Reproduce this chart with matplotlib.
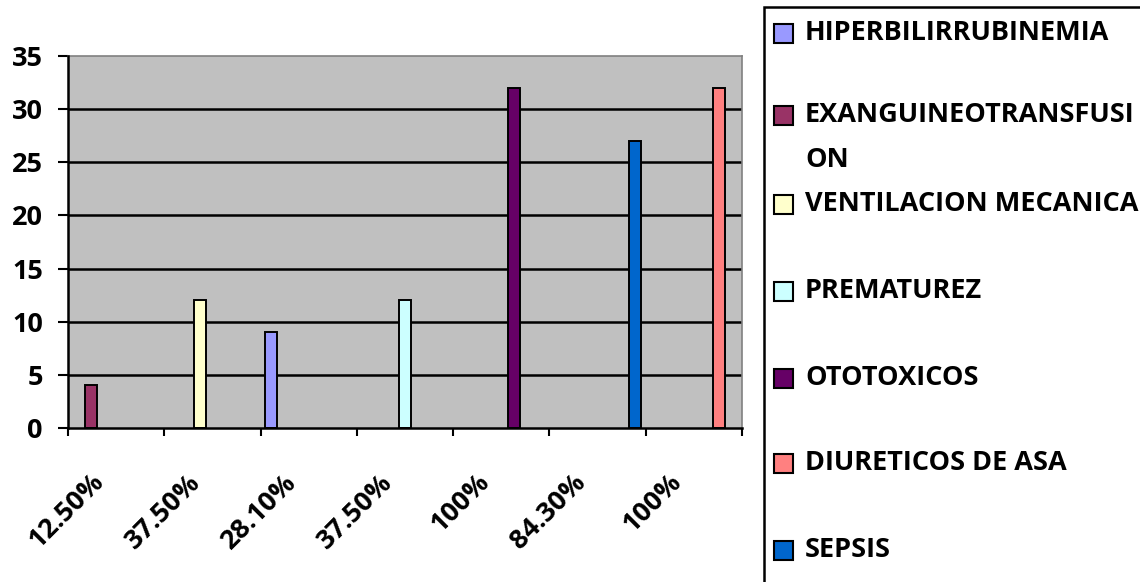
import matplotlib
matplotlib.use("Agg")
import matplotlib.pyplot as plt
from matplotlib.patches import Rectangle
from matplotlib.transforms import ScaledTranslation
import numpy as np

plt.rcParams['font.family'] = ['Open Sans', 'DejaVu Sans']
plt.rcParams['font.weight'] = 'bold'

# Category labels (percentage per group)
categories = ["12.50%", "37.50%", "28.10%", "37.50%", "100%", "84.30%", "100%"]

# One series per risk factor; each has a value only in its own category
series_names = ["HIPERBILIRRUBINEMIA", "EXANGUINEOTRANSFUSI\nON", "VENTILACION MECANICA",
                "PREMATUREZ", "OTOTOXICOS", "DIURETICOS DE ASA", "SEPSIS"]
hiperbilirrubinemia = [0, 0, 9, 0, 0, 0, 0]
exanguineotransfusion = [4, 0, 0, 0, 0, 0, 0]
ventilacion_mecanica = [0, 12, 0, 0, 0, 0, 0]
prematurez = [0, 0, 0, 12, 0, 0, 0]
ototoxicos = [0, 0, 0, 0, 32, 0, 0]
diureticos_de_asa = [0, 0, 0, 0, 0, 0, 32]
sepsis = [0, 0, 0, 0, 0, 27, 0]
series_values = [hiperbilirrubinemia, exanguineotransfusion, ventilacion_mecanica,
                 prematurez, ototoxicos, diureticos_de_asa, sepsis]
series_colors = ["#9999FF", "#993366", "#FFFFCC", "#CCFFFF", "#660066", "#FF8080", "#0066CC"]

FS = 19.5
W, H = 1140, 582
fig = plt.figure(figsize=(W / 100, H / 100), dpi=100)
ax = fig.add_axes([68 / W, 1 - 428 / H, (742 - 68) / W, (428 - 56) / H])
ax.set_facecolor("#C0C0C0")

x = np.arange(len(categories))
bar_w = 0.13
n = len(series_values)
for i, (vals, col) in enumerate(zip(series_values, series_colors)):
    vals = np.asarray(vals, dtype=float)
    mask = vals > 0
    ax.bar(x[mask] + (i - (n - 1) / 2) * bar_w, vals[mask], width=bar_w,
           color=col, edgecolor="black", linewidth=1.4, zorder=3)

ax.set_xlim(-0.5, len(categories) - 0.5)
ax.set_ylim(0, 35)
ax.set_yticks(np.arange(0, 36, 5))
for yv in np.arange(5, 35, 5):
    ax.axhline(yv, color="black", linewidth=1.8, zorder=1)

for side in ("top", "right"):
    ax.spines[side].set_color("#808080")
    ax.spines[side].set_linewidth(1.2)
for side in ("left", "bottom"):
    ax.spines[side].set_color("black")
    ax.spines[side].set_linewidth(1.8)
    ax.spines[side].set_zorder(4)

ax.tick_params(axis="y", direction="out", length=7, width=1.5, pad=11,
               labelsize=FS, color="black")
ax.set_xticks(np.arange(-0.5, len(categories)), labels=[])
ax.tick_params(axis="x", which="major", direction="out", length=6, width=1.5)
ax.set_xticks(x, labels=categories, minor=True)
ax.tick_params(axis="x", which="minor", length=0, pad=36, labelsize=FS)
shift = ScaledTranslation(-16 / 100, 0, fig.dpi_scale_trans)
for lbl in ax.get_xticklabels(minor=True):
    lbl.set_rotation(45)
    lbl.set_ha("right")
    lbl.set_va("center")
    lbl.set_rotation_mode("anchor")
    lbl.set_transform(lbl.get_transform() + shift)

# Legend panel on the right
def fy(py):
    return 1 - py / H

fig.patches.append(Rectangle((764 / W, fy(600)), 400 / W, (600 - 7) / H,
                             transform=fig.transFigure, facecolor="white",
                             edgecolor="black", linewidth=1.8, zorder=0))
entry_y = [33, 115, 204, 291, 378, 463, 550]
line_gap = 45
for name, col, py in zip(series_names, series_colors, entry_y):
    fig.patches.append(Rectangle((774 / W, fy(py + 10)), 19 / W, 19 / H,
                                 transform=fig.transFigure, facecolor=col,
                                 edgecolor="black", linewidth=1.5, zorder=2))
    for k, line in enumerate(name.split("\n")):
        fig.text(805 / W, fy(py + k * line_gap), line, ha="left", va="center",
                 fontsize=FS, fontweight="bold")

fig.savefig("out.png", dpi=100, facecolor="white")
